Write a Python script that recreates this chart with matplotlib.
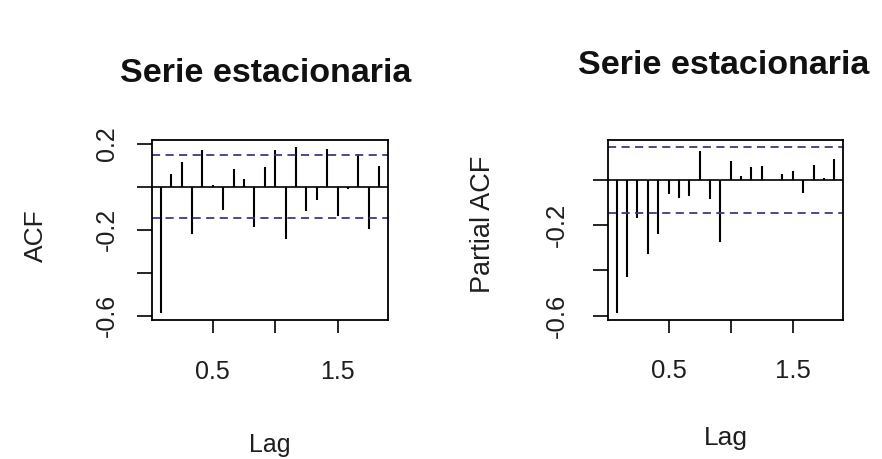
import numpy as np
import matplotlib
matplotlib.use("Agg")
import matplotlib.pyplot as plt

plt.rcParams['font.family'] = ['Liberation Sans', 'DejaVu Sans']

# ---- data ----
lags = [k / 12 for k in range(1, 23)]
acf_vals = [-0.588, 0.060, 0.114, -0.218, 0.171, 0.011, -0.107, 0.083, 0.036, -0.187,
            0.091, 0.171, -0.241, 0.187, -0.113, -0.059, 0.178, -0.137, -0.011, 0.153,
            -0.195, 0.096]
pacf_vals = [-0.590, -0.431, -0.169, -0.329, -0.238, -0.065, -0.081, -0.073, 0.129, -0.087,
             -0.274, 0.082, 0.018, 0.056, 0.062, -0.003, 0.026, 0.040, -0.059, 0.067,
             0.009, 0.091]
conf_limit = 0.146
title = "Serie estacionaria"
xlabel = "Lag"
ylabels = ["ACF", "Partial ACF"]
xticks = [0.5, 1.0, 1.5]
xticklabels = ["0.5", "", "1.5"]
acf_yticks = [0.2, 0.0, -0.2, -0.4, -0.6]
acf_yticklabels = ["0.2", "", "-0.2", "", "-0.6"]
pacf_yticks = [0.0, -0.2, -0.4, -0.6]
pacf_yticklabels = ["", "-0.2", "", "-0.6"]

W, H = 882, 459
fig = plt.figure(figsize=(W / 100, H / 100), dpi=100)
fig.patch.set_facecolor("white")

def px_axes(x0, y0, x1, y1):
    return fig.add_axes([x0 / W, 1 - y1 / H, (x1 - x0) / W, (y1 - y0) / H])

txt = "#1e1e1e"
blue = "#3c3c7c"

def draw(ax, vals, yticks, yticklabels, fs, xpad, ypad):
    vals = np.asarray(vals)
    ax.vlines(lags, 0, vals, colors="black", lw=1.5)
    ax.axhline(0, color="black", lw=1.2)
    ax.axhline(conf_limit, color=blue, lw=1.3, ls=(0, (4.5, 3)))
    ax.axhline(-conf_limit, color=blue, lw=1.3, ls=(0, (4.5, 3)))
    lo = min(vals.min(), -conf_limit)
    hi = max(vals.max(), conf_limit)
    p = 0.04 * (hi - lo)
    ax.set_ylim(lo - p, hi + p)
    xl0, xl1 = min(lags), max(lags)
    q = 0.04 * (xl1 - xl0)
    ax.set_xlim(xl0 - q, xl1 + q)
    ax.set_xticks(xticks)
    ax.set_xticklabels(xticklabels, fontsize=fs, color=txt)
    ax.set_yticks(yticks)
    ax.set_yticklabels(yticklabels, fontsize=fs, color=txt, rotation=90, va="center")
    ax.tick_params(axis="x", length=9.5, width=1.2, pad=xpad, color="black")
    ax.tick_params(axis="y", length=10.5, width=1.2, pad=ypad, color="black")
    for s in ax.spines.values():
        s.set_linewidth(1.3)
        s.set_color("black")

ax1 = px_axes(152, 140, 388, 320)
draw(ax1, acf_vals, acf_yticks, acf_yticklabels, 18, 19.5, 13)
ax2 = px_axes(608, 140, 843, 320)
draw(ax2, pacf_vals, pacf_yticks, pacf_yticklabels, 18.5, 18.5, 18)

# titles and axis labels
fig.text(266 / W, 1 - 73 / H, title, ha="center", va="center", fontsize=24.5,
         fontweight="bold", color="#111111")
fig.text(724 / W, 1 - 65 / H, title, ha="center", va="center", fontsize=24.5,
         fontweight="bold", color="#111111")
fig.text(270 / W, 1 - 452 / H, xlabel, ha="center", va="baseline", fontsize=18, color=txt)
fig.text(726 / W, 1 - 445 / H, xlabel, ha="center", va="baseline", fontsize=19, color=txt)
fig.text(36 / W, 1 - 236 / H, ylabels[0], ha="center", va="center", rotation=90,
         fontsize=19, color=txt)
fig.text(483 / W, 1 - 224 / H, ylabels[1], ha="center", va="center", rotation=90,
         fontsize=19.5, color=txt)

fig.savefig("out.png", dpi=100, facecolor="white")
